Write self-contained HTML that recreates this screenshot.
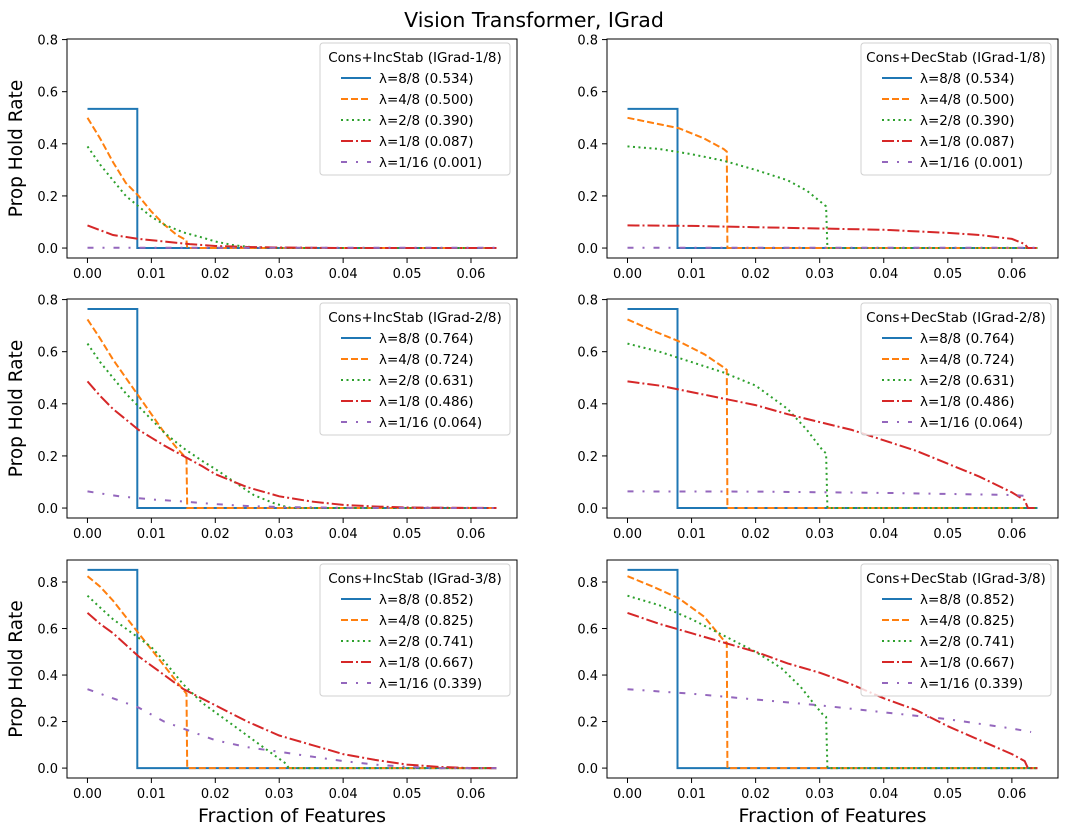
<!DOCTYPE html>
<html><head><meta charset="utf-8"><style>
html,body{margin:0;padding:0;background:#fff}
svg{display:block;font-family:"DejaVu Sans","Liberation Sans",sans-serif}
</style></head><body>
<svg id="fig" width="1068" height="836" viewBox="0 0 1068 836">
<text x="534" y="27" font-size="20.5" text-anchor="middle">Vision Transformer, IGrad</text>
</svg>
<script>
const lamLabels=["λ=8/8","λ=4/8","λ=2/8","λ=1/8","λ=1/16"];
const rowTitles=["IGrad-1/8","IGrad-2/8","IGrad-3/8"];
const rowScores=[["0.534","0.500","0.390","0.087","0.001"],["0.764","0.724","0.631","0.486","0.064"],["0.852","0.825","0.741","0.667","0.339"]];
const xTicks=[0,0.01,0.02,0.03,0.04,0.05,0.06];
const yTicks=[0,0.2,0.4,0.6,0.8];
const yLims=[[-0.0382,0.8022],[-0.0382,0.8022],[-0.0426,0.8946]];
const inc1=[
[[0,0.534],[0.0078,0.534],[0.0078,0],[0.064,0]],
[[0,0.5],[0.002,0.42],[0.004,0.33],[0.006,0.25],[0.008,0.2],[0.01,0.14],[0.012,0.09],[0.014,0.05],[0.0155,0.03],[0.0156,0],[0.064,0]],
[[0,0.39],[0.002,0.32],[0.004,0.26],[0.006,0.2],[0.008,0.16],[0.01,0.12],[0.012,0.09],[0.015,0.06],[0.018,0.04],[0.02,0.025],[0.023,0.01],[0.026,0.003],[0.031,0],[0.064,0]],
[[0,0.087],[0.004,0.05],[0.008,0.035],[0.012,0.025],[0.016,0.015],[0.02,0.008],[0.025,0.004],[0.03,0.002],[0.04,0],[0.064,0]],
[[0,0.001],[0.064,0.001]]];
const dec1=[
[[0,0.534],[0.0078,0.534],[0.0078,0],[0.064,0]],
[[0,0.5],[0.004,0.48],[0.008,0.46],[0.012,0.42],[0.015,0.38],[0.0155,0.37],[0.0156,0],[0.064,0]],
[[0,0.39],[0.005,0.38],[0.01,0.36],[0.015,0.335],[0.02,0.3],[0.025,0.26],[0.028,0.22],[0.0305,0.17],[0.031,0.16],[0.0312,0],[0.064,0]],
[[0,0.087],[0.01,0.085],[0.02,0.08],[0.03,0.075],[0.04,0.07],[0.05,0.058],[0.055,0.05],[0.06,0.035],[0.062,0.015],[0.0625,0],[0.064,0]],
[[0,0.001],[0.064,0.001]]];
const inc2=[
[[0,0.764],[0.0078,0.764],[0.0078,0],[0.064,0]],
[[0,0.724],[0.002,0.65],[0.004,0.57],[0.006,0.5],[0.008,0.43],[0.01,0.36],[0.012,0.29],[0.014,0.23],[0.0155,0.19],[0.0156,0],[0.064,0]],
[[0,0.631],[0.002,0.56],[0.004,0.5],[0.006,0.44],[0.008,0.39],[0.01,0.34],[0.012,0.29],[0.015,0.23],[0.018,0.18],[0.02,0.15],[0.023,0.1],[0.026,0.05],[0.029,0.02],[0.031,0.005],[0.032,0],[0.064,0]],
[[0,0.486],[0.002,0.43],[0.004,0.38],[0.006,0.34],[0.008,0.3],[0.01,0.27],[0.012,0.24],[0.015,0.2],[0.018,0.16],[0.02,0.13],[0.025,0.08],[0.03,0.045],[0.035,0.025],[0.04,0.012],[0.045,0.006],[0.05,0.002],[0.064,0]],
[[0,0.064],[0.005,0.045],[0.01,0.033],[0.015,0.025],[0.02,0.015],[0.025,0.008],[0.03,0.004],[0.04,0.001],[0.064,0]]];
const dec2=[
[[0,0.764],[0.0078,0.764],[0.0078,0],[0.064,0]],
[[0,0.724],[0.004,0.68],[0.008,0.64],[0.012,0.59],[0.015,0.54],[0.0155,0.53],[0.0156,0],[0.064,0]],
[[0,0.631],[0.005,0.6],[0.01,0.56],[0.015,0.52],[0.02,0.47],[0.025,0.38],[0.028,0.3],[0.0305,0.22],[0.031,0.21],[0.0312,0],[0.064,0]],
[[0,0.486],[0.005,0.47],[0.01,0.445],[0.015,0.42],[0.02,0.395],[0.025,0.36],[0.03,0.33],[0.035,0.3],[0.04,0.26],[0.045,0.22],[0.05,0.17],[0.055,0.12],[0.06,0.06],[0.062,0.03],[0.0625,0],[0.064,0]],
[[0,0.064],[0.02,0.063],[0.04,0.058],[0.06,0.05],[0.063,0.045]]];
const inc3=[
[[0,0.852],[0.0078,0.852],[0.0078,0],[0.064,0]],
[[0,0.825],[0.002,0.78],[0.004,0.72],[0.006,0.65],[0.008,0.58],[0.01,0.51],[0.012,0.44],[0.014,0.37],[0.0155,0.32],[0.0156,0],[0.064,0]],
[[0,0.741],[0.002,0.69],[0.004,0.64],[0.006,0.6],[0.008,0.56],[0.01,0.52],[0.012,0.46],[0.015,0.36],[0.018,0.28],[0.02,0.24],[0.023,0.18],[0.026,0.12],[0.029,0.06],[0.031,0.02],[0.0315,0],[0.064,0]],
[[0,0.667],[0.002,0.62],[0.004,0.58],[0.006,0.53],[0.008,0.48],[0.01,0.44],[0.012,0.4],[0.015,0.34],[0.02,0.27],[0.025,0.2],[0.03,0.14],[0.035,0.1],[0.04,0.06],[0.045,0.035],[0.05,0.015],[0.055,0.005],[0.06,0],[0.064,0]],
[[0,0.339],[0.004,0.3],[0.008,0.26],[0.012,0.2],[0.016,0.16],[0.02,0.12],[0.025,0.09],[0.03,0.07],[0.035,0.05],[0.04,0.03],[0.045,0.015],[0.05,0.005],[0.055,0],[0.064,0]]];
const dec3=[
[[0,0.852],[0.0078,0.852],[0.0078,0],[0.064,0]],
[[0,0.825],[0.004,0.78],[0.008,0.73],[0.012,0.65],[0.015,0.55],[0.0155,0.54],[0.0156,0],[0.064,0]],
[[0,0.741],[0.005,0.7],[0.01,0.64],[0.015,0.57],[0.02,0.5],[0.024,0.43],[0.027,0.35],[0.029,0.28],[0.0305,0.23],[0.031,0.22],[0.0312,0],[0.064,0]],
[[0,0.667],[0.005,0.62],[0.01,0.58],[0.015,0.54],[0.02,0.5],[0.025,0.45],[0.03,0.41],[0.035,0.36],[0.04,0.3],[0.045,0.25],[0.05,0.18],[0.055,0.12],[0.06,0.06],[0.062,0.03],[0.0625,0],[0.064,0]],
[[0,0.339],[0.01,0.32],[0.02,0.295],[0.03,0.27],[0.04,0.24],[0.05,0.21],[0.06,0.17],[0.063,0.155]]];
const panels=[[inc1,dec1],[inc2,dec2],[inc3,dec3]];
const colors=["#1f77b4","#ff7f0e","#2ca02c","#d62728","#9467bd"];
const dashes=["none","7,3","2,3.5","12,3,2,3","6,9,2,9"];
const NS="http://www.w3.org/2000/svg";
const svg=document.getElementById('fig');
function mk(tag,attrs,parent){const e=document.createElementNS(NS,tag);for(const k in attrs)e.setAttribute(k,attrs[k]);(parent||svg).appendChild(e);return e;}
const colX=[[67,517],[607,1058]];
const rowY=[[39,258],[299,518],[560,778]];
const xLim=[-0.0032,0.0672];
for(let r=0;r<3;r++)for(let c=0;c<2;c++){
 const [x0,x1]=colX[c],[y0,y1]=rowY[r],[ymin,ymax]=yLims[r];
 const sx=v=>x0+(v-xLim[0])/(xLim[1]-xLim[0])*(x1-x0);
 const sy=v=>y1-(v-ymin)/(ymax-ymin)*(y1-y0);
 const g=mk('g',{});
 
 
 const cp='cp'+r+c;
 const cl=mk('clipPath',{id:cp},g);mk('rect',{x:x0,y:y0,width:x1-x0,height:y1-y0},cl);
 xTicks.forEach(t=>{const x=sx(t);
  mk('line',{x1:x,x2:x,y1:y1,y2:y1+5,stroke:'#000','stroke-width':1},g);
  const tx=mk('text',{x:x,y:y1+20,'font-size':13,'text-anchor':'middle'},g);tx.textContent=t.toFixed(2);
  
  });
 yTicks.forEach(t=>{const y=sy(t);
  mk('line',{x1:x0-5,x2:x0,y1:y,y2:y,stroke:'#000','stroke-width':1},g);
  const tx=mk('text',{x:x0-9,y:y+5,'font-size':13,'text-anchor':'end'},g);tx.textContent=t.toFixed(1);
  
  });
 panels[r][c].forEach((s,i)=>{
  const p=mk('polyline',{points:s.map(d=>sx(d[0]).toFixed(1)+','+sy(d[1]).toFixed(1)).join(' '),fill:'none',stroke:colors[i],'stroke-width':2,'stroke-dasharray':dashes[i],'clip-path':'url(#'+cp+')'},g);
  
  
 });
 mk('rect',{x:x0,y:y0,width:x1-x0,height:y1-y0,fill:'none',stroke:'#000','stroke-width':1},g);
 const lw=190,lh=132,lx=x1-7-lw,ly=y0+4;
 const lg=mk('g',{},g);
 
 
 mk('rect',{x:lx,y:ly,width:lw,height:lh,rx:3,fill:'#fff','fill-opacity':0.8,stroke:'#d0d0d0','stroke-width':1},lg);
 const tt=mk('text',{x:lx+lw/2,y:ly+19,'font-size':13.5,'text-anchor':'middle'},lg);
 tt.textContent=(c?'Cons+DecStab':'Cons+IncStab')+' ('+rowTitles[r]+')';
 lamLabels.forEach((l,i)=>{const yy=ly+35+i*21;
  mk('line',{x1:lx+21,x2:lx+51,y1:yy,y2:yy,stroke:colors[i],'stroke-width':2,'stroke-dasharray':dashes[i]},lg);
  const t=mk('text',{x:lx+59,y:yy+5,'font-size':13.5},lg);t.textContent=l+' ('+rowScores[r][i]+')';
  
  });
 if(c===0){const yl=mk('text',{x:0,y:0,'font-size':18.5,'text-anchor':'middle',transform:'translate(22,'+((y0+y1)/2)+') rotate(-90)'},g);yl.textContent='Prop Hold Rate';
  
  }
 if(r===2){const xl=mk('text',{x:(x0+x1)/2,y:822,'font-size':19,'text-anchor':'middle'},g);xl.textContent='Fraction of Features';
  
  }
}
</script>
</body></html>
